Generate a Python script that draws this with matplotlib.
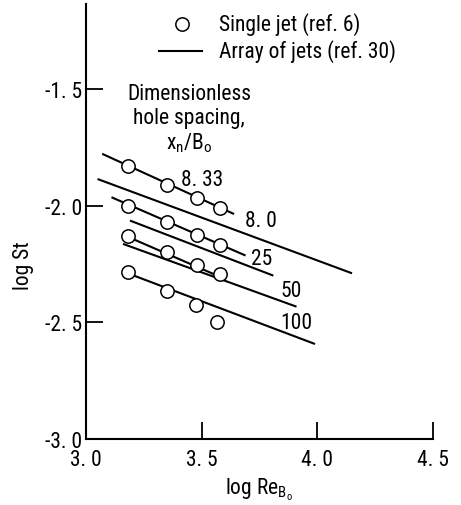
import matplotlib
matplotlib.use("Agg")
import matplotlib.pyplot as plt
import numpy as np

plt.rcParams["font.family"] = ["Roboto Condensed", "DejaVu Sans"]
plt.rcParams["mathtext.fontset"] = "custom"
plt.rcParams["mathtext.rm"] = "Roboto Condensed"

# single jet data (circles), log Re vs log St
re_single = [3.18, 3.35, 3.48, 3.58]
st_833 = [-1.831, -1.911, -1.968, -2.011]
st_25 = [-2.003, -2.071, -2.126, -2.168]
st_50 = [-2.129, -2.200, -2.254, -2.293]
re_100 = [3.18, 3.35, 3.475, 3.565]
st_100 = [-2.286, -2.364, -2.426, -2.497]

# line segments: (x0, x1), (y0, y1)
lines_x = [(3.07, 3.64), (3.05, 4.15), (3.11, 3.69), (3.19, 3.81),
           (3.17, 3.60), (3.16, 3.91), (3.17, 3.99)]
lines_y = [(-1.778, -2.036), (-1.886, -2.290), (-1.964, -2.214), (-2.064, -2.300),
           (-2.129, -2.314), (-2.164, -2.433), (-2.286, -2.593)]

spacing_labels = ["8. 33", "8. 0", "25", "50", "100"]
label_x = [3.50, 3.757, 3.76, 3.889, 3.91]
label_y = [-1.886, -2.064, -2.228, -2.364, -2.50]

FS = 15.5

fig = plt.figure(figsize=(4.61, 5.06), dpi=100)
ax = fig.add_axes([86 / 461, 1 - 440 / 506, 347 / 461, 435 / 506])

for xs, ys in zip(lines_x, lines_y):
    ax.plot(xs, ys, color="black", lw=1.5, solid_capstyle="butt", zorder=2)

for xs, ys in [(re_single, st_833), (re_single, st_25), (re_single, st_50), (re_100, st_100)]:
    ax.plot(xs, ys, "o", ms=9.6, mfc="white", mec="black", mew=1.1, zorder=3)

for lab, x, y in zip(spacing_labels, label_x, label_y):
    ax.text(x, y, lab, fontsize=FS, ha="center", va="center")

ax.text(3.446, -1.475, "Dimensionless\nhole spacing,\n$\\mathregular{x_n/B_o}$",
        fontsize=FS, ha="center", va="top", linespacing=1.15)

# legend drawn by hand
ax.plot([3.414], [-1.22], "o", ms=9.6, mfc="white", mec="black", mew=1.1, clip_on=False)
ax.plot([3.314, 3.503], [-1.337, -1.337], color="black", lw=1.5, clip_on=False)
ax.text(3.574, -1.22, "Single jet (ref. 6)", fontsize=FS, va="center")
ax.text(3.574, -1.337, "Array of jets (ref. 30)", fontsize=FS, va="center")

ax.set_xlim(3.0, 4.5)
ax.set_ylim(-3.0, -1.136)
ax.set_xticks([3.0, 3.5, 4.0, 4.5])
ax.set_xticklabels(["3. 0", "3. 5", "4. 0", "4. 5"])
ax.set_yticks([-3.0, -2.5, -2.0, -1.5])
ax.set_yticklabels(["-3. 0", "-2. 5", "-2. 0", "-1. 5"])
ax.tick_params(direction="in", length=12, width=1.3, labelsize=FS)
ax.tick_params(axis="x", pad=7)
ax.tick_params(axis="y", pad=3)
ax.spines["top"].set_visible(False)
ax.spines["right"].set_visible(False)
for s in ["left", "bottom"]:
    ax.spines[s].set_linewidth(1.5)

ax.set_xlabel("log $\\mathregular{Re_{B_o}}$", fontsize=FS)
ax.set_ylabel("log St", fontsize=FS)
ax.xaxis.set_label_coords(0.5, -0.085)
ax.yaxis.set_label_coords(-0.15, 0.4)

fig.savefig("out.png", dpi=100)
